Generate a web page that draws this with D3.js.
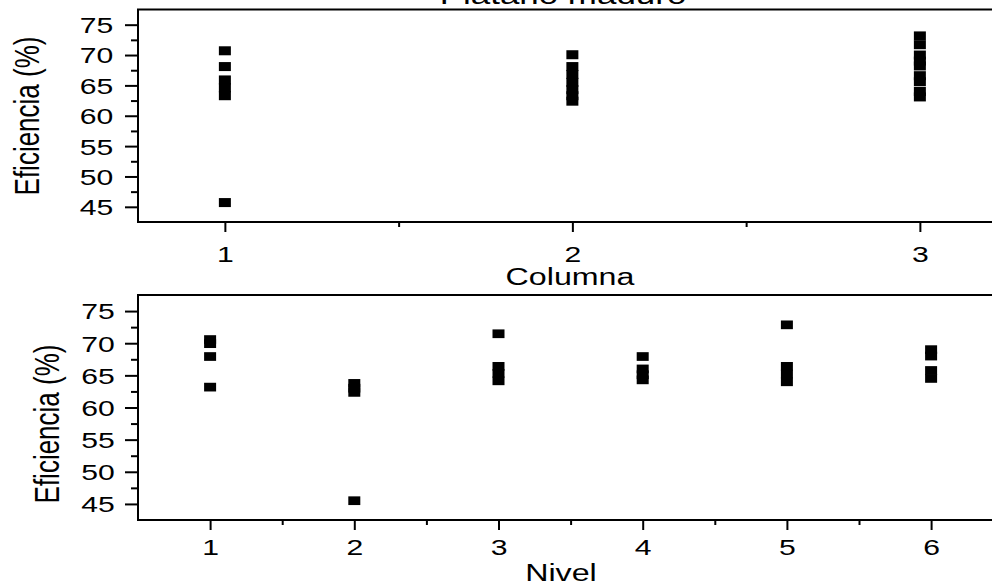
<!DOCTYPE html>
<html>
<head>
<meta charset="utf-8">
<script src="https://cdn.jsdelivr.net/npm/d3@7"></script>
<style>
  html, body { margin: 0; padding: 0; background: #fff; overflow: hidden; }
  text { font-family: "Liberation Sans", Arial, Helvetica, sans-serif; fill: #000; }
</style>
</head>
<body>
<div id="chart"></div>
<script>
// data
const titulo = 'Plátano maduro';
const columnas = [1, 2, 3];
const eficienciaPorColumna = [
    [70.7, 68.1, 65.9, 64.6, 63.3, 45.7],
    [70.05, 68.1, 66.8, 65.5, 64.3, 63.3, 62.4],
    [73.15, 71.7, 70.0, 69.0, 68.2, 66.6, 65.6, 64.0, 63.1]
];
const niveles = [1, 2, 3, 4, 5, 6];
const eficienciaPorNivel = [
    [70.57, 69.93, 67.93, 63.17],
    [63.75, 63.0, 62.35, 45.5],
    [71.47, 66.4, 65.3, 64.15],
    [67.93, 66.0, 65.1, 64.3],
    [72.86, 66.4, 65.2, 64.0],
    [69.0, 68.0, 65.76, 64.52]
];
const yTicks = [45, 50, 55, 60, 65, 70, 75];
const yMinorTicks = [47.5, 52.5, 57.5, 62.5, 67.5, 72.5];

const width = 992, height = 581;
const sx = 1.37; // text in the original is stretched horizontally

const svg = d3.select('#chart').append('svg')
    .attr('width', width)
    .attr('height', height);

function drawPanel(opts) {
    const { cats, values, xDomain, xRange, yRange, xMinor, xLabel, xLabelPos,
            yLabelPos, xTickOffset, yTickOffset, markerH } = opts;

    const x = d3.scaleLinear().domain(xDomain).range(xRange);
    const y = d3.scaleLinear().domain([42.5, 77.5]).range(yRange);

    const points = [];
    cats.forEach((c, i) => values[i].forEach(v => points.push({ c, v })));

    const g = svg.append('g');

    // frame
    g.append('rect')
        .attr('x', xRange[0])
        .attr('y', yRange[1])
        .attr('width', xRange[1] - xRange[0])
        .attr('height', yRange[0] - yRange[1])
        .attr('fill', 'none')
        .attr('stroke', '#000')
        .attr('stroke-width', 2);

    // y axis major + minor
    const yAxis = g.append('g')
        .attr('transform', `translate(${xRange[0]},0)`)
        .call(d3.axisLeft(y).tickValues(yTicks).tickSize(13).tickSizeOuter(0));
    g.append('g')
        .attr('transform', `translate(${xRange[0]},0)`)
        .call(d3.axisLeft(y).tickValues(yMinorTicks).tickSize(7).tickFormat('').tickSizeOuter(0))
        .call(a => a.select('.domain').remove())
        .selectAll('line').attr('stroke-width', 2);
    yAxis.select('.domain').remove();
    yAxis.selectAll('line').attr('stroke-width', 2);
    yAxis.selectAll('text')
        .attr('x', null)
        .attr('dy', '0.36em')
        .attr('font-size', 22)
        .attr('text-anchor', 'end')
        .attr('transform', `translate(${yTickOffset},0) scale(${sx},1)`);

    // x axis major + minor
    const xAxis = g.append('g')
        .attr('transform', `translate(0,${yRange[0]})`)
        .call(d3.axisBottom(x).tickValues(cats).tickSize(10).tickFormat(d3.format('d')).tickSizeOuter(0));
    g.append('g')
        .attr('transform', `translate(0,${yRange[0]})`)
        .call(d3.axisBottom(x).tickValues(xMinor).tickSize(5).tickFormat('').tickSizeOuter(0))
        .call(a => a.select('.domain').remove())
        .selectAll('line').attr('stroke-width', 2);
    xAxis.select('.domain').remove();
    xAxis.selectAll('line').attr('stroke-width', 2);
    xAxis.selectAll('text')
        .attr('y', null)
        .attr('dy', null)
        .attr('font-size', 22)
        .attr('text-anchor', 'middle')
        .attr('transform', `translate(0,${xTickOffset}) scale(${sx},1)`);

    // markers
    g.selectAll('.pt')
        .data(points)
        .enter().append('rect')
        .attr('class', 'pt')
        .attr('x', d => x(d.c) - 6)
        .attr('y', d => y(d.v) - markerH / 2)
        .attr('width', 12)
        .attr('height', markerH)
        .attr('fill', '#000');

    // axis titles
    g.append('text')
        .attr('text-anchor', 'middle')
        .attr('font-size', 23.5)
        .attr('transform', `translate(${xLabelPos[0]},${xLabelPos[1]}) scale(${sx},1)`)
        .text(xLabel);

    g.append('text')
        .attr('text-anchor', 'middle')
        .attr('font-size', 26)
        .attr('transform', `translate(${yLabelPos[0]},${yLabelPos[1]}) scale(${sx},1) rotate(-90)`)
        .text('Eficiencia (%)');
}

// title, mostly cut off at the top
svg.append('text')
    .attr('text-anchor', 'middle')
    .attr('font-size', 25.5)
    .attr('transform', `translate(563,4) scale(${sx},1)`)
    .text(titulo);

drawPanel({
    cats: columnas,
    values: eficienciaPorColumna,
    xDomain: [0.75, 3.25],
    xRange: [138, 138 + 2.5 * 347.5],
    yRange: [222, 9.5],
    xMinor: [1.5, 2.5],
    xLabel: 'Columna',
    xLabelPos: [570, 284.5],
    yLabelPos: [39, 116],
    xTickOffset: 39.5,
    yTickOffset: -24.7,
    markerH: 9
});

drawPanel({
    cats: niveles,
    values: eficienciaPorNivel,
    xDomain: [0.5, 6.5],
    xRange: [138, 138 + 6 * 144.2],
    yRange: [520, 295],
    xMinor: [1.5, 2.5, 3.5, 4.5, 5.5],
    xLabel: 'Nivel',
    xLabelPos: [561, 580.5],
    yLabelPos: [59, 424],
    xTickOffset: 35,
    yTickOffset: -23.3,
    markerH: 8.7
});
</script>
</body>
</html>
